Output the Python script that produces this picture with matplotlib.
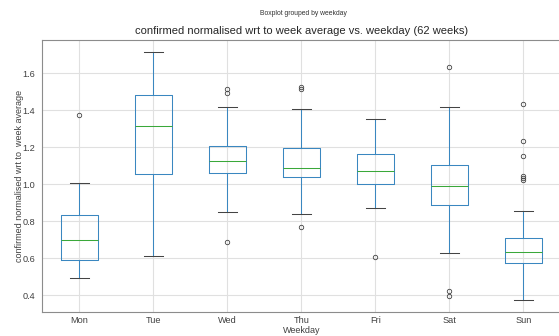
import matplotlib
matplotlib.use("Agg")
import matplotlib.pyplot as plt

plt.rcParams['font.family'] = ['Liberation Sans', 'DejaVu Sans']

days = ["Mon", "Tue", "Wed", "Thu", "Fri", "Sat", "Sun"]

# box statistics
medians = [0.697, 1.317, 1.124, 1.090, 1.070, 0.989, 0.632]
q1 = [0.589, 1.054, 1.059, 1.039, 1.000, 0.890, 0.573]
q3 = [0.834, 1.481, 1.205, 1.198, 1.164, 1.103, 0.711]
whis_lo = [0.494, 0.612, 0.849, 0.838, 0.870, 0.627, 0.376]
whis_hi = [1.005, 1.717, 1.420, 1.405, 1.351, 1.416, 0.854]
fliers = [
  [1.376],
  [],
  [1.515, 1.492, 0.688],
  [1.524, 1.515, 0.769],
  [0.609],
  [1.632, 0.422, 0.398],
  [1.436, 1.232, 1.155, 1.046, 1.034, 1.022],
]

stats = []
for i, day in enumerate(days):
  stats.append({
    "label": day,
    "med": medians[i],
    "q1": q1[i],
    "q3": q3[i],
    "whislo": whis_lo[i],
    "whishi": whis_hi[i],
    "fliers": fliers[i],
  })

fig = plt.figure(figsize=(5.59, 3.36), dpi=100)
ax = fig.add_axes([0.0757, 0.0705, 0.9266, 0.8105])

blue = "#3a87c0"
ax.bxp(stats,
       boxprops=dict(color=blue, linewidth=0.75),
       whiskerprops=dict(color=blue, linewidth=0.75),
       medianprops=dict(color="#3aa83a", linewidth=0.75),
       capprops=dict(color="#444444", linewidth=0.75),
       flierprops=dict(marker="o", markersize=3.2, markerfacecolor="none",
                       markeredgecolor="#444444", markeredgewidth=0.6))

ax.set_xlim(0.5, 7.5)
ax.set_ylim(0.308, 1.78)
ax.set_yticks([0.4, 0.6, 0.8, 1.0, 1.2, 1.4, 1.6])
ax.grid(True, color="0.88", linewidth=0.8)
ax.set_axisbelow(True)
for s in ax.spines.values():
  s.set_color("0.55")
  s.set_linewidth(0.8)
ax.tick_params(length=0, labelsize=6.6, labelcolor="0.25")
ax.tick_params(axis="y", pad=5)
ax.tick_params(axis="x", pad=3)

ax.set_title("confirmed normalised wrt to week average vs. weekday (62 weeks)", fontsize=8, color="0.15", pad=4)
ax.set_xlabel("Weekday", fontsize=6.5, color="0.25", labelpad=0.3)
ax.set_ylabel("confirmed normalised wrt to  week average", fontsize=6.5, color="0.25")
ax.yaxis.set_label_coords(-0.036, 0.5)
fig.text(0.542, 0.96, "Boxplot grouped by weekday", fontsize=4.9, color="0.2", ha="center", va="center")

fig.savefig("out.png", dpi=100)
